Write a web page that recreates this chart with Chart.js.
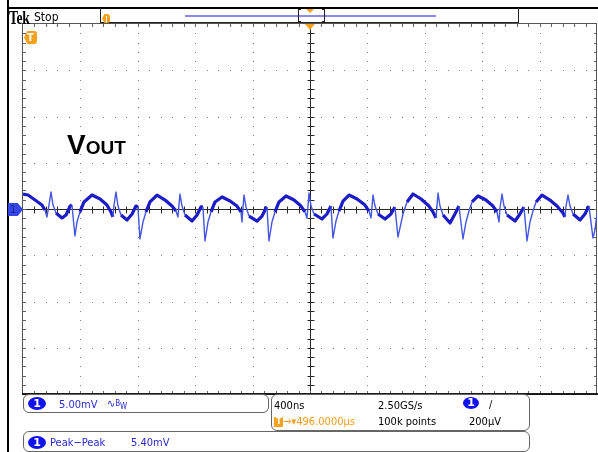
<!DOCTYPE html>
<html>
<head>
<meta charset="utf-8">
<script src="https://cdn.jsdelivr.net/npm/chart.js@4.4.1/dist/chart.umd.min.js"></script>
<style>
  html, body { margin: 0; padding: 0; background: #fff; overflow: hidden; }
  #wrap { position: relative; width: 598px; height: 452px; }
  #scope { position: absolute; left: 0; top: 0; }
  .t { position: absolute; line-height: 1; white-space: nowrap; font-family: "DejaVu Sans Condensed", "DejaVu Sans", sans-serif; font-size: 11px; font-stretch: condensed; }
  .box { position: absolute; box-sizing: border-box; border: 1px solid #666; border-radius: 6px; }
  .ch { position: absolute; background: #1212ee; color: #fff; border-radius: 50%; text-align: center; font-family: "DejaVu Sans", sans-serif; font-size: 11px; font-weight: bold; }
  .blue { color: #2a2ad2; }
  .orange { color: #f5a01e; }
  .ln { position: absolute; background: #000; }
</style>
</head>
<body>
<div id="wrap">
  <canvas id="scope" width="598" height="452"></canvas>

  <!-- frame lines -->
  <div class="ln" style="left:7px;top:0;width:2px;height:452px;"></div>
  <div class="ln" style="left:7px;top:7px;width:591px;height:2px;"></div>

  <!-- top bar -->
  <div class="t" style="left:9px;top:8px;font-family:'Liberation Serif',serif;font-weight:bold;font-size:19px;transform:scaleX(0.72);transform-origin:left;letter-spacing:-0.5px;">Tek</div>
  <div class="t" style="left:34px;top:11px;font-size:12px;">Stop</div>
  <div style="position:absolute;left:100px;top:8px;width:419px;height:15px;border:1px solid #222;border-top:none;box-sizing:border-box;"></div>
  <div style="position:absolute;left:185px;top:15px;width:251px;height:2px;background:#8a8aee;"></div>
  <div style="position:absolute;left:298px;top:9px;width:3px;height:13px;border:1px solid #222;border-right:none;box-sizing:border-box;"></div>
  <div style="position:absolute;left:322px;top:9px;width:3px;height:13px;border:1px solid #222;border-left:none;box-sizing:border-box;"></div>
  <div style="position:absolute;left:306px;top:9px;width:0;height:0;border-left:4px solid transparent;border-right:4px solid transparent;border-top:4px solid #f5a01e;"></div>
  <div style="position:absolute;left:102px;top:14px;width:8px;height:9px;background:#f5a01e;border-radius:2px 3px 3px 2px;clip-path:polygon(30% 0,100% 0,100% 100%,30% 100%,0 50%);"></div>
  <div style="position:absolute;left:106px;top:16px;width:1px;height:6px;background:#fff;"></div>

  <!-- trigger markers on graticule -->
  <div style="position:absolute;left:305px;top:24px;width:0;height:0;border-left:5px solid transparent;border-right:5px solid transparent;border-top:6px solid #f5a01e;"></div>
  <div style="position:absolute;left:24px;top:31px;width:13px;height:13px;background:#f5a01e;border-radius:3px;clip-path:polygon(25% 0,100% 0,100% 100%,25% 100%,0 50%);"></div>
  <div class="t" style="left:27px;top:32px;color:#fff;font-weight:bold;font-size:11px;font-family:'DejaVu Sans',sans-serif;">T</div>

  <!-- channel marker -->
  <div style="position:absolute;left:8px;top:203px;width:15px;height:13px;background:#3446e6;clip-path:polygon(0 0,65% 0,100% 50%,65% 100%,0 100%);"></div>
  <div class="t" style="left:10px;top:204px;color:#1b2a8c;font-size:11px;">1</div>

  <!-- label -->
  <div class="t" style="left:67px;top:131px;font-family:'Liberation Sans',Arial,sans-serif;font-weight:bold;font-size:28px;font-stretch:normal;">V<span style="font-size:19px;">OUT</span></div>

  <!-- bottom panels -->
  <div class="box" style="left:23px;top:394px;width:246px;height:19px;"></div>
  <div class="ch" style="left:28px;top:397px;width:18px;height:13px;line-height:13px;">1</div>
  <div class="t blue" style="left:59px;top:399px;">5.00mV</div>
  <div class="t blue" style="left:107px;top:398px;">∿<span style="font-size:8px;position:relative;top:-1px;">B</span><span style="font-size:8px;position:relative;top:2px;">W</span></div>

  <div class="box" style="left:271px;top:394px;width:259px;height:37px;"></div>
  <div class="t" style="left:274px;top:400px;">400ns</div>
  <div class="t" style="left:378px;top:400px;">2.50GS/s</div>
  <div class="ch" style="left:463px;top:397px;width:16px;height:12px;line-height:12px;">1</div>
  <div class="t" style="left:489px;top:399px;">/</div>
  <div style="position:absolute;left:274px;top:417px;width:9px;height:10px;background:#f5a01e;border-radius:1px;"></div>
  <div class="t" style="left:276px;top:417px;color:#fff;font-size:9px;font-weight:bold;">T</div>
  <div class="t orange" style="left:283px;top:416px;">→▾496.0000µs</div>
  <div class="t" style="left:378px;top:416px;">100k points</div>
  <div class="t" style="left:469px;top:416px;">200µV</div>

  <div class="box" style="left:23px;top:431px;width:507px;height:21px;"></div>
  <div class="ch" style="left:28px;top:436px;width:18px;height:13px;line-height:13px;">1</div>
  <div class="t blue" style="left:50px;top:437px;">Peak−Peak</div>
  <div class="t blue" style="left:131px;top:437px;">5.40mV</div>
</div>

<script>
// horizontal: 400 ns/div, 10 div; vertical: 5 mV/div, 8 div
const timeDivs = [-1600, -1200, -800, -400, 400, 800, 1200, 1600];
const voltDivs = [-15, -10, -5, 5, 10, 15];

// Vout trace (ns, mV)
const timeNs = [
  -2000, -1965, -1916, -1868, -1847, -1833, -1819, -1805, -1791, -1770,
  -1728, -1700, -1672, -1659, -1638, -1624, -1603, -1575, -1519, -1463,
  -1415, -1387, -1373, -1366, -1352, -1338, -1317, -1275, -1240, -1213,
  -1199, -1185, -1164, -1143, -1115, -1066, -1010, -962, -934, -920,
  -913, -906, -892, -871, -822, -787, -760, -746, -732, -711,
  -690, -662, -613, -557, -509, -481, -474, -467, -460, -446,
  -425, -369, -334, -307, -300, -286, -265, -244, -216, -167,
  -111, -63, -35, -21, -14, -7, 7, 28, 84, 118,
  146, 160, 181, 202, 230, 272, 328, 383, 411, 425,
  432, 439, 453, 474, 523, 564, 592, 613, 627, 648,
  676, 718, 774, 829, 857, 878, 885, 892, 906, 927,
  976, 1010, 1038, 1066, 1087, 1108, 1129, 1171, 1226, 1275,
  1303, 1317, 1324, 1338, 1352, 1373, 1429, 1463, 1491, 1512,
  1533, 1554, 1575, 1617, 1672, 1721, 1763, 1777, 1784, 1798,
  1812, 1833, 1882, 1916, 1944, 1972, 1986, 2000
];
const voutMv = [
  1.62, 1.51, 0.97, 0.43, -0.11, -0.86, 0.43, 1.84, 0.43, -0.43,
  -0.97, -0.65, 0.32, 0.43, -2.92, -1.41, -0.32, 0.76, 1.51, 1.08,
  0.43, -0.32, -0.86, 0.43, 1.84, 0.32, -0.65, -1.19, -0.54, 0.32,
  0.22, -3.24, -1.41, -0.32, 0.76, 1.51, 0.97, 0.32, -0.22, -0.86,
  0.43, 1.62, 0.32, -0.65, -1.30, -0.65, 0.22, 0.22, -3.46, -1.41,
  -0.32, 0.76, 1.30, 0.86, 0.32, -0.32, -1.41, 0.11, 1.51, 0.22,
  -0.76, -1.30, -0.76, 0.11, 0.22, -3.46, -1.41, -0.32, 0.76, 1.41,
  0.97, 0.32, -0.32, -0.97, 0.32, 1.73, 0.32, -0.54, -1.08, -0.54,
  0.32, -3.14, -1.30, -0.22, 0.86, 1.51, 1.08, 0.43, -0.22, -0.97,
  0.22, 1.51, 0.32, -0.54, -1.08, -0.54, 0.22, -3.03, -2.05, -0.54,
  0.76, 1.62, 1.08, 0.32, -0.32, -0.97, 0.32, 1.73, 0.32, -0.65,
  -1.51, -0.54, 0.32, -3.24, -1.41, -0.22, 0.76, 1.41, 0.97, 0.32,
  -0.32, -1.41, 0.11, 1.62, 0.32, -0.65, -1.30, -0.54, 0.22, -3.46,
  -1.41, -0.22, 0.76, 1.51, 0.97, 0.32, -0.43, -0.86, 0.32, 1.51,
  0.32, -0.54, -1.19, -0.54, 0.32, -3.14, -2.27, -0.43
];

// graticule: dotted divisions, center cross with ticks, edge ticks
const graticule = {
    id: 'graticule',
    beforeDatasetsDraw(chart) {
        const { ctx, chartArea, scales } = chart;
        const { left, right, top, bottom } = chartArea;
        const x = scales.x, y = scales.y;
        ctx.save();

        ctx.fillStyle = '#7a7a7a';
        timeDivs.forEach(t => {
            const px = Math.round(x.getPixelForValue(t));
            for (let v = -19; v <= 19; v++) {
                ctx.fillRect(px, Math.round(y.getPixelForValue(v)), 1, 1);
            }
        });
        voltDivs.forEach(v => {
            const py = Math.round(y.getPixelForValue(v));
            for (let t = -1920; t <= 1920; t += 80) {
                ctx.fillRect(Math.round(x.getPixelForValue(t)), py, 1, 1);
            }
        });

        // center cross
        const cx = Math.round(x.getPixelForValue(0)) + 0.5;
        const cy = Math.round(y.getPixelForValue(0)) + 0.5;
        ctx.strokeStyle = '#2a2a2a';
        ctx.lineWidth = 1;
        ctx.beginPath();
        ctx.moveTo(cx, top); ctx.lineTo(cx, bottom);
        ctx.moveTo(left, cy); ctx.lineTo(right, cy);
        for (let v = -19; v <= 19; v++) {
            const py = Math.round(y.getPixelForValue(v)) + 0.5;
            ctx.moveTo(cx - 3, py); ctx.lineTo(cx + 4, py);
        }
        for (let t = -1920; t <= 1920; t += 80) {
            const px = Math.round(x.getPixelForValue(t)) + 0.5;
            ctx.moveTo(px, cy - 3); ctx.lineTo(px, cy + 4);
        }
        ctx.stroke();

        // edge ticks
        ctx.strokeStyle = '#666';
        ctx.beginPath();
        for (let t = -1920; t <= 1920; t += 80) {
            const px = Math.round(x.getPixelForValue(t)) + 0.5;
            ctx.moveTo(px, top); ctx.lineTo(px, top + 3);
            ctx.moveTo(px, bottom); ctx.lineTo(px, bottom - 3);
        }
        for (let v = -19; v <= 19; v++) {
            const py = Math.round(y.getPixelForValue(v)) + 0.5;
            ctx.moveTo(left, py); ctx.lineTo(left + 3, py);
            ctx.moveTo(right, py); ctx.lineTo(right - 3, py);
        }
        ctx.stroke();

        // border
        ctx.strokeStyle = '#555';
        ctx.strokeRect(left - 0.5, top - 0.5, right - left, bottom - top);
        ctx.fillStyle = '#1a1a1a';
        ctx.fillRect(left - 1, bottom - 1, right - left + 2, 2);
        ctx.restore();
    }
};

const steep = (c) => {
    const dx = Math.abs(c.p1.x - c.p0.x), dy = Math.abs(c.p1.y - c.p0.y);
    return dy / Math.max(dx, 0.5) > 2.5;
};

new Chart(document.getElementById('scope'), {
    type: 'line',
    data: {
        datasets: [{
            data: timeNs.map((t, i) => ({ x: t, y: voutMv[i] })),
            borderColor: '#1c1cc6',
            borderWidth: 3.2,
            borderJoinStyle: 'round',
            pointRadius: 0,
            tension: 0,
            segment: {
                borderColor: c => steep(c) ? '#4455e0' : undefined,
                borderWidth: c => steep(c) ? 1.4 : undefined
            }
        }]
    },
    options: {
        responsive: false,
        animation: false,
        layout: { padding: { left: 23, top: 24, right: 1, bottom: 58 } },
        plugins: { legend: { display: false }, tooltip: { enabled: false } },
        scales: {
            x: { type: 'linear', min: -2000, max: 2000, display: false },
            y: { min: -20, max: 20, display: false }
        }
    },
    plugins: [graticule]
});
</script>
</body>
</html>
